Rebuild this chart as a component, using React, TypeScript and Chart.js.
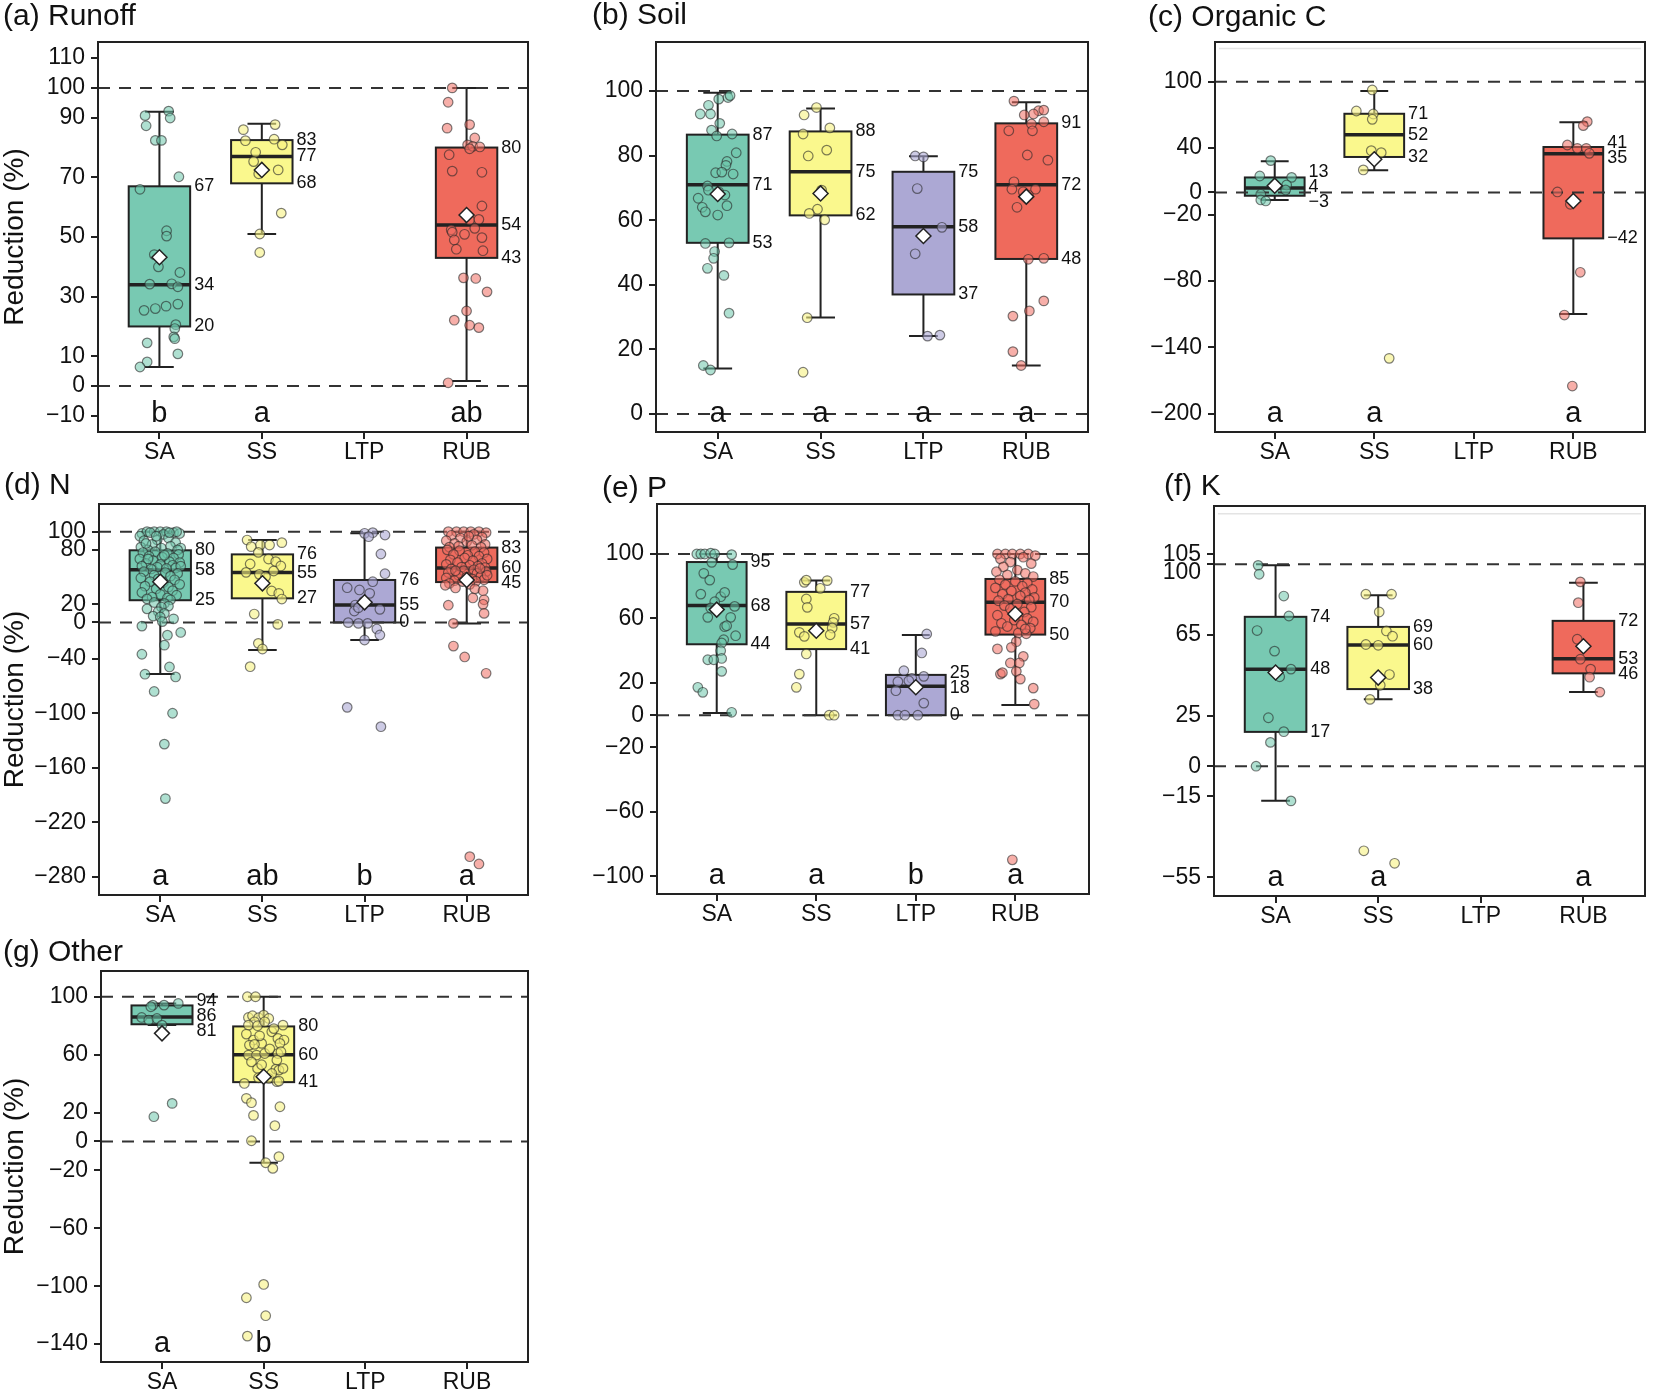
import React, { useEffect, useRef } from "react";
import { Chart, registerables } from "chart.js";

Chart.register(...registerables);

const FONT = "'Liberation Sans', Arial, Helvetica, sans-serif";

// ---------- shared ----------
const CATEGORIES = ["SA", "SS", "LTP", "RUB"];
const BOX_FILLS = ["#78C9B2", "#FAF88D", "#ACA8D4", "#EF6A5C"];
const POINT_FILLS = [
  "rgba(110,198,172,0.55)",
  "rgba(246,242,130,0.6)",
  "rgba(172,168,212,0.6)",
  "rgba(240,110,98,0.55)",
];
const REF_LINES = [0, 100];

// box stats: [whiskerLow, q1, median, q3, whiskerHigh, mean]
// ---------- (a) Runoff ----------
const A_YTICKS = [-10, 0, 10, 30, 50, 70, 90, 100, 110];
const A_BOX = [
  [6.4, 20, 34, 67, 92, 43.2],
  [51, 68, 77, 82.5, 88, 72.5],
  null,
  [1.7, 43, 54, 80, 100, 57.4],
];
const A_LABELS = [["67", "34", "20"], ["83", "77", "68"], null, ["80", "54", "43"]];
const A_LETTERS = ["b", "a", "", "ab"];
const A_SA = [[-0.14,90.7],[0.09,92.2],[0.105,89.9],[-0.13,87.3],[-0.04,82.4],[0.02,82.4],[0.19,70.2],[-0.19,66],[0.07,52.1],[0.07,50.3],[-0.05,44.1],[-0.01,40],[0.2,38.1],[-0.095,34.2],[0.12,34.3],[0.18,33.3],[-0.15,25.4],[-0.04,26],[0.065,26.8],[0.18,27.5],[0.16,20.6],[0.15,19.3],[0.14,16.5],[0.15,15.9],[-0.12,14.5],[0.18,10.8],[-0.12,8.1],[-0.19,6.4]];
const A_SS = [[-0.18,86],[0.13,87.7],[-0.16,82.3],[0.12,82.8],[0.2,80.9],[-0.06,78.4],[-0.08,75.3],[-0.03,71.2],[0.16,72.5],[0.19,58],[-0.02,51],[-0.02,44.8]];
const A_RUB = [[-0.14,100],[-0.18,95.2],[-0.19,86.5],[0.03,87.7],[0.08,83.2],[0.01,80.9],[0.06,80.4],[0.13,80.2],[0.03,79.6],[-0.17,77.6],[-0.14,72.1],[0.15,71.7],[0.15,60.4],[0.03,55.7],[0.12,55.9],[-0.15,52.4],[-0.14,51.6],[0.08,52.9],[-0.02,50.9],[-0.12,49],[0.15,49.8],[-0.1,45.9],[0.16,45.4],[-0.03,36.3],[0.09,36.1],[0.2,31.6],[0,25.2],[-0.12,22.1],[0.03,20.4],[0.12,19.6],[-0.18,1.1]];

// ---------- (b) Soil ----------
const B_YTICKS = [0, 20, 40, 60, 80, 100];
const B_BOX = [
  [14.1, 53, 71, 86.5, 99.5, 68.1],
  [29.9, 61.5, 75, 87.5, 94.6, 68.3],
  [24.1, 37, 58, 75, 79.8, 55.1],
  [15, 48, 71, 90, 96.5, 67.3],
];
const B_LABELS = [["87", "71", "53"], ["88", "75", "62"], ["75", "58", "37"], ["91", "72", "48"]];
const B_LETTERS = ["a", "a", "a", "a"];
const B_SA = [[0.01,97.5],[0.1,98],[0.12,98.6],[-0.09,95.6],[-0.17,92.9],[-0.07,92.9],[0.02,90],[-0.06,87.9],[-0.01,86.1],[0.14,86.7],[0.18,80.9],[0.09,78.2],[0.08,77],[-0.02,74.7],[0.04,74.9],[0.15,74.3],[-0.1,70.6],[-0.09,69.3],[0.01,68.8],[0.07,67.8],[-0.19,66.8],[-0.15,64],[-0.12,62.6],[0,61.6],[0.09,64.5],[-0.12,52.8],[0.11,53],[-0.03,50.3],[-0.04,48.2],[-0.1,45.1],[0.06,42.9],[0.11,31.2],[-0.14,15],[-0.07,13.6]];
const B_SS = [[-0.04,94.9],[-0.16,92.6],[-0.17,86.7],[0.09,88.6],[-0.12,79.9],[0.06,81.7],[0.01,69.3],[-0.03,63.4],[-0.11,62.1],[0.04,60.1],[-0.13,29.8],[-0.17,12.9]];
const B_LTP = [[-0.08,79.9],[0,79.6],[-0.06,69.8],[0.18,57.8],[-0.08,49.6],[0.04,24.1],[0.16,24.4]];
const B_RUB = [[-0.12,96.9],[0.12,93.9],[0.07,92.9],[0.17,94.1],[-0.02,92.6],[0.05,89.8],[0.17,90.5],[-0.17,87.7],[0.06,87.7],[0.01,80.2],[0.21,78.6],[-0.12,71.9],[-0.14,69.6],[-0.03,68.8],[0.09,69.6],[-0.09,64],[0.02,67.8],[0.02,47.9],[0.17,48.2],[0.17,35],[0.03,31.9],[-0.13,30.3],[-0.13,19.3],[-0.05,15]];

// ---------- (c) Organic C ----------
const C_YTICKS = [-200, -140, -80, -20, 0, 40, 100];
const C_BOX = [
  [-6.8, -3, 4, 13.5, 28.1, 6.1],
  [20, 32, 52, 71, 91.6, 29.9],
  null,
  [-109.7, -41.5, 35, 41, 63.3, -7.7],
];
const C_LABELS = [["13", "4", "\u22123"], ["71", "52", "32"], null, ["41", "35", "\u221242"]];
const C_LETTERS = ["a", "a", "", "a"];
const C_SA = [[-0.04,28.7],[-0.15,14.8],[0.17,13.6],[0.12,6.7],[0.11,2.2],[-0.14,-1.7],[-0.14,-6.8],[-0.09,-7.7]];
const C_SS = [[-0.02,92.5],[-0.18,73.5],[-0.01,70.8],[-0.02,66],[-0.03,37.7],[0.07,35.9],[-0.11,20.3],[0.15,-149.8]];
const C_RUB = [[0.14,63.9],[0.1,60.3],[-0.06,42.8],[0.04,39.8],[0.13,39.8],[0.16,35.3],[-0.16,0.4],[-0.03,-10.7],[0.07,-72.1],[-0.09,-110.7],[-0.01,-174.8]];

// ---------- (d) N ----------
const D_YTICKS = [-280, -220, -160, -100, -40, 0, 20, 80, 100];
const D_BOX = [
  [-56.8, 24.5, 58, 79.5, 100, 44.9],
  [-30.3, 26.6, 55, 75, 90.8, 43.1],
  [-19.3, 0, 19.2, 46.8, 98.2, 22.2],
  [-1, 44.5, 60, 82.5, 100, 46.8],
];
const D_LABELS = [["80", "58", "25"], ["76", "55", "27"], ["76", "55", "0"], ["83", "60", "45"]];
const D_LETTERS = ["a", "ab", "b", "a"];
const D_SA = [[-0.18,98],[-0.13,100],[-0.06,100],[0,100],[0.06,100],[0.13,99],[0.19,98],[-0.2,95],[0.16,100],[-0.1,99],[0.03,97],[-0.16,90],[0.08,93],[-0.03,91],[0.15,88],[-0.19,83],[-0.08,86],[0.1,84],[0.2,82],[0.01,82],[-0.12,80],[0.17,80],[-0.04,95],[0.09,99],[-0.14,87],
  [-0.17,77],[-0.05,78],[0.07,76],[0.18,75],[-0.11,73],[0.02,72],[0.13,71],[-0.2,70],[-0.07,68],[0.09,67],[0.19,66],[-0.14,65],[0,64],[0.12,63],[-0.18,62],[-0.03,61],[0.15,60],[0.06,59.5],[-0.09,59],[0.2,62],[-0.12,70],[0.04,74],
  [-0.16,56],[0.05,55],[0.17,54],[-0.06,52],[0.1,51],[-0.19,49],[-0.02,48],[0.14,47],[-0.1,45],[0.03,44],[0.19,42],[-0.15,40],[0.08,39],[-0.04,37],[0.12,35],[-0.18,33],[0,31],[0.16,30],[-0.08,28],[0.07,27],[-0.13,26],[0.1,25],
  [-0.06,22],[0.04,21],[0.08,18],[0.01,17],[-0.13,15],[-0.02,12],[0.04,10],[-0.07,7],[0,6],[0.13,4],[0.02,1],[-0.18,-4],[0.2,-11],[0.07,-14],[0.04,-25],[-0.18,-35],[0.09,-49],[-0.15,-57],[0.15,-60],[-0.06,-76],[0.12,-100],[0.04,-134],[0.05,-194]];
const D_SS = [[-0.15,90.8],[-0.02,85.3],[0.07,85.3],[0.19,87.9],[-0.11,83.5],[-0.04,77.2],[0.06,69.9],[0.13,67],[-0.12,64.4],[0.18,62.2],[-0.16,55.2],[-0.03,53],[0.11,56.7],[0.03,50.4],[0.09,34.7],[0.16,32.1],[0.19,25.8],[-0.08,9.3],[0.15,-2.1],[-0.04,-23],[0,-29.2],[-0.12,-48.7]];
const D_LTP = [[0,98.2],[0.08,98.9],[0.04,94.5],[0.2,96.3],[0.16,75.4],[0.2,53.7],[-0.17,38.3],[-0.05,35.8],[0.08,44.9],[0.05,32.1],[-0.09,19.2],[-0.01,22.9],[-0.1,12.6],[-0.06,16.3],[0.15,14.5],[-0.16,-0.2],[-0.06,-1],[0.03,-1],[0.12,-7.2],[0.15,-13.8],[0,-19.3],[-0.17,-93.5],[0.16,-114.8]];
const D_RUB = [[-0.18,100],[-0.1,100],[-0.03,100],[0.04,100],[0.12,100],[0.19,99],[-0.15,96],[0.07,97],[-0.06,93],[0.15,94],[-0.2,90],[0,89],[0.1,91],[-0.12,87],[0.18,86],[0.05,85],[-0.08,84],[0.14,83],[-0.17,83],[0.02,95],
  [-0.19,80],[-0.07,79],[0.08,78],[0.17,77],[-0.13,75],[0.01,74],[0.12,73],[-0.02,71],[0.2,70],[-0.16,69],[0.06,68],[-0.09,66],[0.15,65],[-0.2,64],[0.03,63],[0.11,62],[-0.05,61],[0.18,60.5],
  [-0.15,59],[0.07,58],[-0.03,57],[0.19,56],[-0.18,55],[0.1,54],[-0.08,52],[0.14,51],[0,50],[-0.2,49],[0.05,48],[0.17,47],[-0.12,46],[0.09,45.5],[-0.04,45],[0.2,52],[-0.11,57],[0.13,59.5],
  [-0.17,43],[0.03,42],[-0.21,41],[-0.11,38],[0.08,37],[0.16,35],[0.06,27],[0.17,25],[-0.18,19],[0.16,20],[0.17,10],[-0.13,-1],[-0.13,-26],[-0.02,-38],[0.19,-56],[0.03,-258],[0.12,-266]];

// ---------- (e) P ----------
const E_YTICKS = [-100, -60, -20, 0, 20, 60, 100];
const E_BOX = [
  [1.3, 44, 68, 95, 100, 65.5],
  [0, 41, 56.5, 76.5, 83.5, 52.4],
  [0, 0, 18, 25, 49.7, 17.3],
  [6.3, 50, 70, 84.5, 100, 62.8],
];
const E_LABELS = [["95", "68", "44"], ["77", "57", "41"], ["25", "18", "0"], ["85", "70", "50"]];
const E_LETTERS = ["a", "a", "b", "a"];
const E_SA = [[-0.2,100],[-0.16,100],[-0.12,100],[-0.06,100.5],[-0.02,100],[0.15,99.6],[-0.05,94.8],[0.16,93.4],[-0.13,88],[-0.07,83.8],[-0.16,75.1],[0.04,73.5],[0.08,76.2],[-0.02,70.4],[-0.06,66.5],[0.18,67.5],[-0.09,60.7],[0.14,60.7],[0.08,54.9],[0.1,55.5],[0.19,49.3],[0.07,46.8],[0.05,44.8],[0.04,40],[0.05,35.2],[-0.09,34.4],[-0.03,34.4],[0.05,27.2],[-0.19,17.3],[-0.14,14.2],[0.15,1.8]];
const E_SS = [[-0.12,82.4],[-0.1,83.8],[0.11,83.5],[0.04,78.7],[-0.1,72.1],[-0.09,66.9],[0.18,60.1],[0.17,57.6],[0.16,54.1],[-0.17,51.4],[-0.12,48.9],[0.14,49.9],[-0.1,38],[-0.17,25.5],[-0.2,17.3],[0.13,0],[0.18,0]];
const E_LTP = [[0.11,50.4],[0.06,38.6],[-0.12,27.6],[-0.04,22.8],[0.08,24.1],[-0.18,20.8],[-0.07,21.4],[-0.2,15.2],[0.08,7.5],[-0.18,0],[-0.11,0],[0.02,0]];
const E_RUB = [[-0.18,100],[-0.1,100],[-0.03,100],[0.05,100],[0.13,100],[0.2,99],[-0.15,97],[0.08,98],[-0.05,95],[0.16,94],[-0.12,92],[0.02,90],[-0.19,89],[0.1,88],[-0.08,87],[0.18,86],
  [-0.16,84],[0,83],[0.12,82],[-0.1,81],[0.07,80],[-0.2,79],[0.17,78],[-0.04,77],[0.1,76],[-0.13,75],[0.05,74],[0.19,73],[-0.07,72],[0.14,71.5],[-0.17,71],
  [0.02,69],[-0.11,68],[0.16,67],[-0.05,66],[0.09,64],[-0.18,62],[0.12,60],[-0.01,59],[0.18,58],[-0.14,57],[0.06,56],[-0.08,55],[0.15,54],[-0.2,52],[0.03,51],[0.11,50.5],[0.1,53.5],
  [0.01,45.6],[-0.18,41.1],[-0.04,42.1],[0.08,36.5],[-0.05,32.4],[0.04,32.4],[-0.15,25.5],[-0.13,26.4],[0.01,27.2],[0.05,22.4],[0.18,16.8],[0.19,6.9],[-0.03,-89.7]];

// ---------- (f) K ----------
const F_YTICKS = [-55, -15, 0, 25, 65, 100, 105];
const F_BOX = [
  [-17.1, 17, 48, 74, 99.5, 46.4],
  [33.2, 38.2, 60, 69, 84.7, 43.9],
  null,
  [36.7, 46, 53.2, 72, 90.9, 59.4],
];
const F_LABELS = [["74", "48", "17"], ["69", "60", "38"], null, ["72", "53", "46"]];
const F_LETTERS = ["a", "a", "", "a"];
const F_SA = [[-0.17,99.5],[-0.16,95.1],[0.08,84.3],[0.13,74.4],[-0.18,67.2],[-0.01,57],[0.15,48.1],[0.04,44.3],[-0.07,24],[0.08,17.1],[-0.05,11.8],[-0.19,0],[0.15,-17.2]];
const F_SS = [[-0.12,85.2],[0.13,85.2],[0.01,76.4],[0.08,67],[0.14,64.4],[-0.12,60.3],[0,59.9],[0.11,45.4],[0.02,40.1],[-0.08,33.1],[-0.14,-41.9],[0.16,-48.1]];
const F_RUB = [[-0.03,91.3],[-0.05,81],[-0.06,62.9],[-0.03,53],[0.07,48.1],[0.06,44.1],[0.16,36.7]];

// ---------- (g) Other ----------
const G_YTICKS = [-140, -100, -60, -20, 0, 20, 60, 100];
const G_BOX = [
  [80.4, 81, 86, 94, 95.4, 74.7],
  [-14.7, 41, 60, 79.5, 100, 44.7],
  null,
  null,
];
const G_LABELS = [["94", "86", "81"], ["80", "60", "41"], null, null];
const G_LETTERS = ["a", "b", "", ""];
const G_SA = [[-0.09,94.2],[0.02,94.2],[0.16,95.4],[-0.11,93.1],[-0.2,85.7],[-0.13,83.9],[-0.05,85],[0,80.4],[-0.08,17.1],[0.1,26.3]];
const G_SS = [[-0.16,100],[-0.08,100],[-0.15,85.7],[-0.11,86.9],[-0.05,85.5],[0,87.3],[0.05,85],[-0.09,82.7],[-0.15,80.4],[-0.06,80],[0.01,82.7],[0.08,75.8],[0.19,80.4],[-0.17,74.2],[-0.1,70.1],[-0.02,67.8],[0.14,71.2],[0.2,70.1],[0.16,67.8],[-0.14,66.6],[-0.09,67.1],[0.14,60.8],[0.17,62],[-0.15,59.7],[-0.07,59.7],[0.01,60.8],[0.13,56.2],[-0.06,50.5],[0.12,50],[0.15,49.3],[0.19,50.5],[-0.05,44],[0.05,43.6],[0.13,41.3],[0.15,41.7],[-0.19,40.1],[-0.04,73],[0.06,64],[-0.12,55],[0.08,47],[-0.02,53],[0.1,78],
  [-0.17,29.8],[-0.12,26.8],[-0.1,18],[0.16,24],[0.11,10.9],[-0.12,0.5],[0.15,-10.5],[0.02,-14.7],[0.09,-18.6],[0,-98.8],[-0.17,-108],[0.02,-120.4],[-0.16,-134.5]];

// ---------- panel layout (plot rectangles in page pixels) ----------
const PANELS = [
  { title: "(a) Runoff", rect: [98, 42, 533, 432], titleAt: [3, 25], col: 0, yMin: -15.4, yMax: 115.4, xMax: 4.6, yTicks: A_YTICKS, boxes: A_BOX, labels: A_LABELS, letters: A_LETTERS, points: [A_SA, A_SS, null, A_RUB], faint: null, nudge: {} },
  { title: "(b) Soil", rect: [656, 42, 1093, 432], titleAt: [592, 24], col: 1, yMin: -5.6, yMax: 115.2, xMax: 4.6, yTicks: B_YTICKS, boxes: B_BOX, labels: B_LABELS, letters: B_LETTERS, points: [B_SA, B_SS, B_LTP, B_RUB], faint: null, nudge: {} },
  { title: "(c) Organic C", rect: [1215, 42, 1650, 432], titleAt: [1148, 26], col: 2, yMin: -216.3, yMax: 135.8, xMax: 4.72, yTicks: C_YTICKS, boxes: C_BOX, labels: C_LABELS, letters: C_LETTERS, points: [C_SA, C_SS, null, C_RUB], faint: 130, nudge: {} },
  { title: "(d) N", rect: [99, 504, 533, 895], titleAt: [4, 494], col: 0, yMin: -300.2, yMax: 130.5, xMax: 4.6, yTicks: D_YTICKS, boxes: D_BOX, labels: D_LABELS, letters: D_LETTERS, points: [D_SA, D_SS, D_LTP, D_RUB], faint: null, nudge: {} },
  { title: "(e) P", rect: [657, 504, 1094, 894], titleAt: [602, 497], col: 1, yMin: -110.9, yMax: 131, xMax: 4.74, yTicks: E_YTICKS, boxes: E_BOX, labels: E_LABELS, letters: E_LETTERS, points: [E_SA, E_SS, E_LTP, E_RUB], faint: null, nudge: {} },
  { title: "(f) K", rect: [1214, 506, 1650, 896], titleAt: [1164, 495], col: 2, yMin: -64.3, yMax: 128.9, xMax: 4.6, yTicks: F_YTICKS, boxes: F_BOX, labels: F_LABELS, letters: F_LETTERS, points: [F_SA, F_SS, null, F_RUB], faint: 125, nudge: { 100: 8 } },
  { title: "(g) Other", rect: [101, 971, 533, 1362], titleAt: [3, 961], col: 0, yMin: -152.4, yMax: 117.8, xMax: 4.6, yTicks: G_YTICKS, boxes: G_BOX, labels: G_LABELS, letters: G_LETTERS, points: [G_SA, G_SS, null, null], faint: null, nudge: {} },
];

function geometry(cfg: any) {
  const [L, T, R, B] = cfg.rect;
  const cl = cfg.col === 0 ? 0 : L - 110;
  const cr = Math.min(1654, R + 4);
  const ct = T - 44;
  const cb = B + 42;
  return { L, T, R, B, cl, cr, ct, cb, w: cr - cl, h: cb - ct };
}

function fmt(v: number) {
  return v < 0 ? "\u2212" + Math.abs(v) : String(v);
}

function makePlugin(cfg: any, g: any) {
  return {
    id: "boxplotDecor",
    beforeDatasetsDraw(chart: any) {
      const ctx = chart.ctx;
      const xs = chart.scales.x;
      const ys = chart.scales.y;
      const ca = chart.chartArea;
      ctx.save();
      if (cfg.faint != null) {
        const y = ys.getPixelForValue(cfg.faint);
        ctx.strokeStyle = "#e4e4e4";
        ctx.lineWidth = 1.5;
        ctx.beginPath();
        ctx.moveTo(ca.left + 4, y);
        ctx.lineTo(ca.right - 4, y);
        ctx.stroke();
      }
      cfg.boxes.forEach((b: any, i: number) => {
        if (!b) return;
        const [lo, q1, med, q3, hi] = b;
        const c = i + 1;
        const xc = xs.getPixelForValue(c);
        const xl = xs.getPixelForValue(c - 0.3);
        const xr = xs.getPixelForValue(c + 0.3);
        const cl = xs.getPixelForValue(c - 0.14);
        const cr = xs.getPixelForValue(c + 0.14);
        const yLo = ys.getPixelForValue(lo);
        const yQ1 = ys.getPixelForValue(q1);
        const yMed = ys.getPixelForValue(med);
        const yQ3 = ys.getPixelForValue(q3);
        const yHi = ys.getPixelForValue(hi);
        ctx.strokeStyle = "#222";
        ctx.lineWidth = 2;
        ctx.setLineDash([]);
        ctx.beginPath();
        ctx.moveTo(xc, yQ3); ctx.lineTo(xc, yHi);
        ctx.moveTo(cl, yHi); ctx.lineTo(cr, yHi);
        ctx.moveTo(xc, yQ1); ctx.lineTo(xc, yLo);
        ctx.moveTo(cl, yLo); ctx.lineTo(cr, yLo);
        ctx.stroke();
        ctx.fillStyle = BOX_FILLS[i];
        ctx.fillRect(xl, yQ3, xr - xl, yQ1 - yQ3);
        ctx.strokeRect(xl, yQ3, xr - xl, yQ1 - yQ3);
        ctx.lineWidth = 3.5;
        ctx.beginPath();
        ctx.moveTo(xl, yMed); ctx.lineTo(xr, yMed);
        ctx.stroke();
      });
      ctx.strokeStyle = "#333";
      ctx.lineWidth = 2;
      ctx.setLineDash([12, 9]);
      REF_LINES.forEach((v) => {
        const y = ys.getPixelForValue(v);
        ctx.beginPath();
        ctx.moveTo(ca.left, y);
        ctx.lineTo(ca.right, y);
        ctx.stroke();
      });
      ctx.restore();
    },
    afterDatasetsDraw(chart: any) {
      const ctx = chart.ctx;
      const xs = chart.scales.x;
      const ys = chart.scales.y;
      const ca = chart.chartArea;
      ctx.save();
      ctx.strokeStyle = "#222";
      ctx.lineWidth = 2;
      ctx.strokeRect(ca.left, ca.top, ca.right - ca.left, ca.bottom - ca.top);
      ctx.fillStyle = "#111";
      ctx.font = `18px ${FONT}`;
      ctx.textAlign = "left";
      ctx.textBaseline = "middle";
      cfg.boxes.forEach((b: any, i: number) => {
        if (!b || !cfg.labels[i]) return;
        const vals = [b[3], b[2], b[1]];
        const items = cfg.labels[i].map((t: string, k: number) => ({ t, y: ys.getPixelForValue(vals[k]) }));
        items.sort((p: any, q: any) => p.y - q.y);
        const gap = 15;
        for (let it = 0; it < 30; it++) {
          for (let k = 0; k < items.length - 1; k++) {
            const d = items[k + 1].y - items[k].y;
            if (d < gap) {
              const s = (gap - d) / 2;
              items[k].y -= s;
              items[k + 1].y += s;
            }
          }
        }
        const x = xs.getPixelForValue(i + 1 + 0.3) + 4;
        items.forEach((p: any) => ctx.fillText(p.t, x, p.y));
      });
      ctx.font = `29px ${FONT}`;
      ctx.textAlign = "center";
      ctx.textBaseline = "alphabetic";
      cfg.letters.forEach((t: string, i: number) => {
        if (!t) return;
        ctx.fillText(t, xs.getPixelForValue(i + 1), ca.bottom - 10);
      });
      ctx.restore();
    },
    afterDraw(chart: any) {
      const ctx = chart.ctx;
      const ys = chart.scales.y;
      const ca = chart.chartArea;
      ctx.save();
      ctx.fillStyle = "#111";
      ctx.font = `23px ${FONT}`;
      ctx.textAlign = "right";
      ctx.textBaseline = "middle";
      cfg.yTicks.forEach((v: number) => {
        const dy = cfg.nudge[v] || 0;
        ctx.fillText(fmt(v), ca.left - 13, ys.getPixelForValue(v) + dy);
      });
      ctx.textAlign = "left";
      ctx.textBaseline = "alphabetic";
      ctx.font = `30px ${FONT}`;
      ctx.fillText(cfg.title, cfg.titleAt[0] - g.cl, cfg.titleAt[1] - g.ct);
      if (cfg.col === 0) {
        ctx.translate(15 - g.cl, (ca.top + ca.bottom) / 2);
        ctx.rotate(-Math.PI / 2);
        ctx.textAlign = "center";
        ctx.textBaseline = "middle";
        ctx.font = `28px ${FONT}`;
        ctx.fillText("Reduction (%)", 0, 0);
      }
      ctx.restore();
    },
  };
}

function Panel({ cfg }: { cfg: any }) {
  const ref = useRef<HTMLCanvasElement>(null);
  const g = geometry(cfg);
  useEffect(() => {
    const canvas = ref.current;
    if (!canvas) return;
    const datasets: any[] = [];
    datasets.push({
      label: "mean",
      order: 0,
      data: cfg.boxes.map((b: any, i: number) => (b ? { x: i + 1, y: b[5] } : null)).filter(Boolean),
      pointStyle: "rectRot",
      pointRadius: 7.5,
      backgroundColor: "#ffffff",
      borderColor: "#222",
      borderWidth: 1.5,
    });
    cfg.points.forEach((pts: any, i: number) => {
      if (!pts) return;
      datasets.push({
        label: CATEGORIES[i],
        order: 1,
        data: pts.map((p: number[]) => ({ x: i + 1 + p[0], y: p[1] })),
        pointRadius: 4.8,
        backgroundColor: POINT_FILLS[i],
        borderColor: "rgba(40,40,40,0.6)",
        borderWidth: 1.2,
      });
    });
    const gridOpts = { display: true, drawOnChartArea: false, drawTicks: true, tickLength: 7, color: "#222", lineWidth: 2 };
    const chart = new Chart(canvas, {
      type: "scatter",
      data: { datasets },
      options: {
        animation: false,
        responsive: false,
        maintainAspectRatio: false,
        devicePixelRatio: 1,
        events: [],
        layout: { padding: { left: 0, top: g.T - g.ct, right: g.cr - g.R, bottom: 0 } },
        plugins: { legend: { display: false }, tooltip: { enabled: false }, title: { display: false } },
        scales: {
          x: {
            type: "linear",
            position: "bottom",
            min: 0.4,
            max: cfg.xMax,
            afterBuildTicks: (s: any) => { s.ticks = [1, 2, 3, 4].map((v) => ({ value: v })); },
            afterFit: (s: any) => { s.height = g.cb - g.B; },
            ticks: {
              callback: (v: any) => CATEGORIES[Math.round(Number(v)) - 1] || "",
              font: { family: FONT, size: 23 },
              color: "#111",
              padding: 0,
              autoSkip: false,
              maxRotation: 0,
              minRotation: 0,
            },
            grid: gridOpts,
            border: { display: false },
          },
          y: {
            type: "linear",
            position: "left",
            min: cfg.yMin,
            max: cfg.yMax,
            afterBuildTicks: (s: any) => { s.ticks = cfg.yTicks.map((v: number) => ({ value: v })); },
            afterFit: (s: any) => { s.width = g.L - g.cl; },
            ticks: { display: false },
            grid: gridOpts,
            border: { display: false },
          },
        },
      } as any,
      plugins: [makePlugin(cfg, g)],
    });
    return () => chart.destroy();
  }, []);
  return (
    <canvas
      ref={ref}
      width={g.w}
      height={g.h}
      style={{ position: "absolute", left: g.cl, top: g.ct, width: g.w, height: g.h }}
    />
  );
}

export default function App() {
  return (
    <div
      style={{
        position: "absolute",
        left: 0,
        top: 0,
        width: 1654,
        height: 1396,
        background: "#ffffff",
        overflow: "hidden",
      }}
    >
      {PANELS.map((p, i) => (
        <Panel key={i} cfg={p} />
      ))}
    </div>
  );
}
